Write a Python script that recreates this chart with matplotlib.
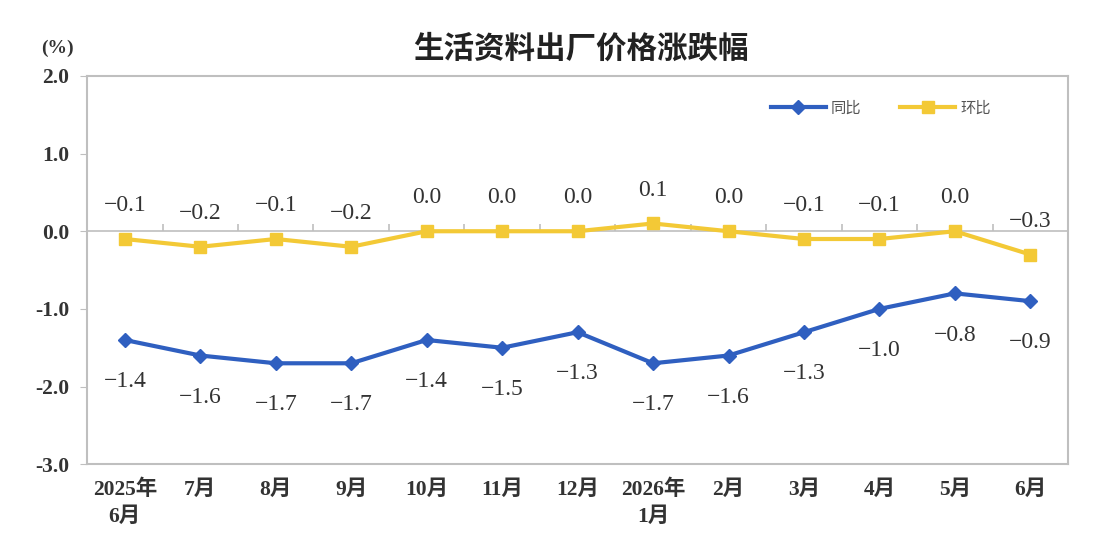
import matplotlib
matplotlib.use("Agg")
import matplotlib.pyplot as plt
import numpy as np

plt.rcParams['font.family'] = ['Liberation Serif', 'Noto Sans CJK SC', 'DejaVu Sans']

# 数据
months = ["2025年\n6月", "7月", "8月", "9月", "10月", "11月", "12月",
          "2026年\n1月", "2月", "3月", "4月", "5月", "6月"]
yoy = [-1.4, -1.6, -1.7, -1.7, -1.4, -1.5, -1.3, -1.7, -1.6, -1.3, -1.0, -0.8, -0.9]
mom = [-0.1, -0.2, -0.1, -0.2, 0.0, 0.0, 0.0, 0.1, 0.0, -0.1, -0.1, 0.0, -0.3]
yticks = [-3.0, -2.0, -1.0, 0.0, 1.0, 2.0]

blue = '#2F5FC0'
yellow = '#F3C936'
grid_gray = '#BFBFBF'
text_col = '#333333'

fig = plt.figure(figsize=(10.96, 5.54), dpi=100)
ax = fig.add_axes([0.0795, 0.162, 0.895, 0.701])

x = np.arange(len(months))
ax.plot(x, yoy, color=blue, lw=3, marker='D', markersize=7.5, label='同比', zorder=5)
ax.plot(x, mom, color=yellow, lw=3, marker='s', markersize=9, label='环比', zorder=5)

for xi, v in zip(x, yoy):
    ax.annotate(f"{v:.1f}".replace('-', '−'), (xi, v), xytext=(0, -30), textcoords='offset points',
                ha='center', va='center', fontsize=17, color=text_col)
for xi, v in zip(x, mom):
    ax.annotate(f"{v:.1f}".replace('-', '−'), (xi, v), xytext=(0, 24), textcoords='offset points',
                ha='center', va='center', fontsize=17, color=text_col)

ax.set_xlim(-0.5, len(months) - 0.5)
ax.set_ylim(-3.0, 2.0)
ax.set_yticks(yticks)
ax.set_yticklabels([f"{t:.1f}" for t in yticks], fontsize=15.5, fontweight='bold', color=text_col)
ax.set_xticks(x)
ax.set_xticklabels(months, fontsize=15.5, fontweight='bold', color=text_col, linespacing=1.45)
ax.tick_params(axis='x', length=0, pad=11)
ax.tick_params(axis='y', length=5, color=grid_gray, direction='out', pad=8)

# 零线和分隔刻度
ax.axhline(0, color=grid_gray, lw=1.2, zorder=1)
ax.vlines(x[1:] - 0.5, 0, 0.09, color=grid_gray, lw=1.2, zorder=1)

for s in ax.spines.values():
    s.set_color(grid_gray)
    s.set_linewidth(1.5)

leg = ax.legend(loc='upper right', bbox_to_anchor=(0.935, 0.975), ncol=2, frameon=False,
                handlelength=3.6, columnspacing=2.6, handletextpad=0.3,
                prop={'family': ['Noto Sans CJK SC'], 'size': 11})
for t in leg.get_texts():
    t.set_color('#555555')

fig.text(0.53, 0.913, "生活资料出厂价格涨跌幅", ha='center', va='center', fontsize=22,
         fontweight='bold', family=['Noto Sans CJK SC'], color='#222222')
fig.text(0.052, 0.913, "(%)", ha='center', va='center', fontsize=14, fontweight='bold',
         color=text_col)

fig.savefig('out.png', dpi=100)
